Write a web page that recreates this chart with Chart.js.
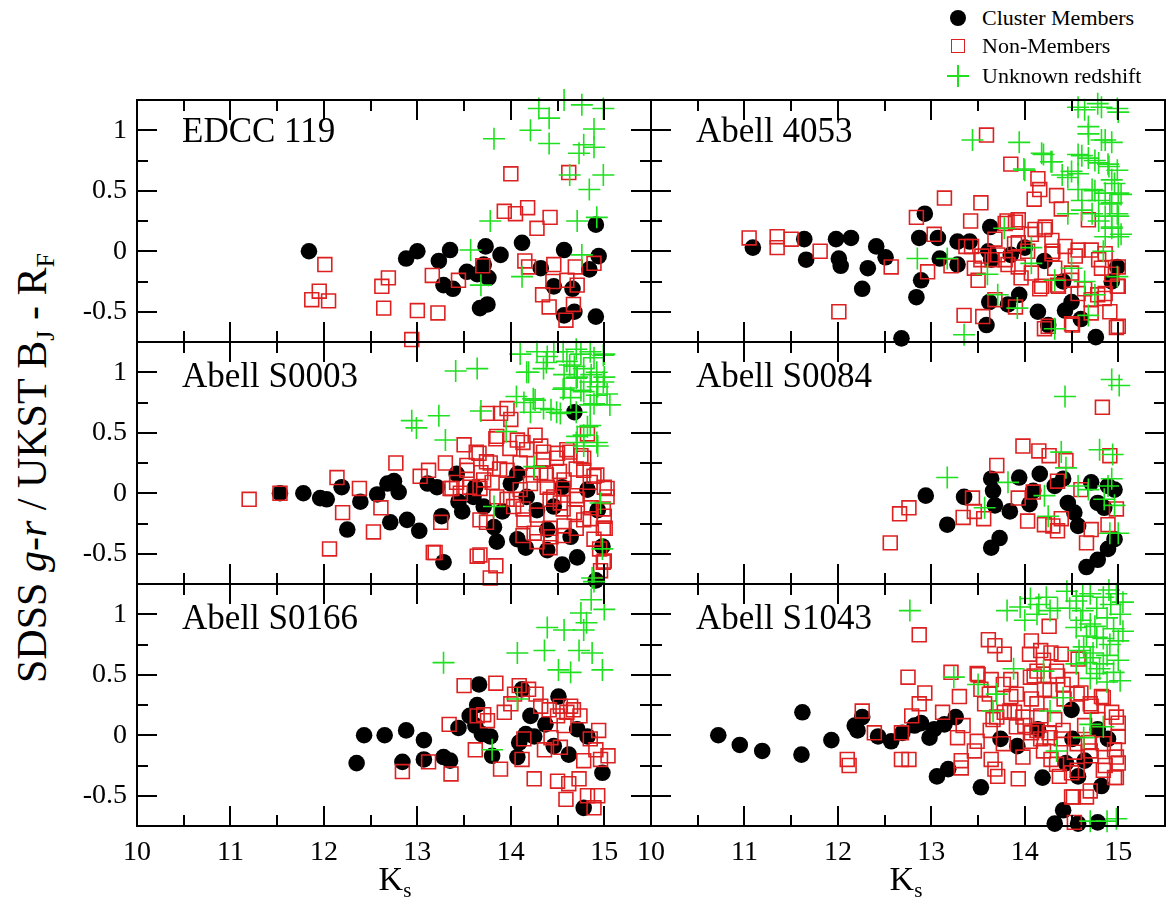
<!DOCTYPE html>
<html>
<head>
<meta charset="utf-8">
<script src="https://cdn.jsdelivr.net/npm/chart.js@4.4.1/dist/chart.umd.min.js"></script>
<style>
  html, body { margin: 0; padding: 0; background: #fff; }
  #fig { position: relative; width: 1170px; height: 918px; overflow: hidden;
         font-family: 'Liberation Serif', 'Times New Roman', serif; color: #000; }
  #fig canvas { position: absolute; }
  .plabel { position: absolute; font-size: 35px; line-height: 1; white-space: nowrap; }
  .ks { position: absolute; font-size: 34px; line-height: 1; transform: translate(-50%, 0); }
  .ks sub, #ytitle sub { font-size: 0.62em; vertical-align: baseline; position: relative; top: 0.32em; }
  #ytitle { position: absolute; left: 32px; top: 468px; font-size: 42px; line-height: 1; white-space: nowrap;
            transform: translate(-50%, -50%) rotate(-90deg); }
  .leg { position: absolute; font-size: 22px; line-height: 1; white-space: nowrap; }
  .mk { position: absolute; box-sizing: border-box; }
</style>
</head>
<body>
<div id="fig"></div>
<script>
/* ===== data: [Ks, colour] pairs ===== */
const X_TICKS = [10, 11, 12, 13, 14, 15];
const X_MINOR = [10.5, 11.5, 12.5, 13.5, 14.5];
const Y_TICKS = [-0.5, 0, 0.5, 1];
const Y_MINOR = [-0.25, 0.25, 0.75];

const EDCC119_MEM = [[11.84,0.00],[12.88,-0.06],[13.00,0.00],[13.23,-0.08],[13.35,0.01],[13.28,-0.28],[13.38,-0.31],
  [13.53,-0.17],[13.73,0.04],[13.64,-0.19],[13.76,-0.22],[13.67,-0.47],[13.75,-0.44],[13.89,-0.03],[14.12,0.07],
  [14.32,-0.14],[14.57,0.01],[14.46,-0.29],[14.66,-0.31],[14.57,-0.53],[14.68,-0.50],[14.84,-0.15],[14.94,-0.04],
  [14.91,0.22],[14.91,-0.54],[13.71,-0.11]];
const EDCC119_NON = [[12.01,-0.11],[11.95,-0.33],[11.87,-0.40],[12.05,-0.41],[12.69,-0.22],[12.62,-0.29],[12.64,-0.47],
  [13.00,-0.49],[13.22,-0.51],[12.94,-0.73],[13.16,-0.20],[13.44,-0.24],[13.70,-0.12],[14.00,0.64],[13.93,0.33],
  [14.05,0.31],[14.18,0.36],[14.28,0.19],[14.42,0.28],[14.15,-0.08],[14.19,-0.13],[14.46,-0.11],[14.34,-0.36],
  [14.41,-0.46],[14.45,-0.25],[14.62,0.65],[14.69,-0.13],[14.71,-0.28],[14.60,-0.24],[14.67,-0.44],[14.59,-0.57],
  [14.89,-0.10]];
const EDCC119_UNK = [[13.82,0.93],[13.78,0.25],[13.57,0.01],[13.68,-0.28],[14.12,-0.21],[14.21,1.00],[14.30,1.18],
  [14.41,1.10],[14.41,0.89],[14.57,1.25],[14.76,1.21],[14.99,1.18],[14.89,1.01],[14.78,0.88],[14.73,0.81],
  [14.89,0.86],[14.63,0.63],[14.99,0.63],[14.84,0.51],[14.71,0.25],[14.92,0.28],[14.76,-0.03]];

const A4053_MEM = [[11.09,0.03],[11.64,0.10],[11.66,-0.07],[11.98,0.10],[12.14,0.11],[12.01,-0.06],[12.03,-0.12],
  [12.41,0.04],[12.51,-0.05],[12.32,-0.14],[12.26,-0.31],[12.68,-0.72],[12.93,0.31],[12.87,0.11],[12.89,-0.24],
  [12.84,-0.38],[13.07,0.11],[13.09,-0.06],[13.28,0.08],[13.41,0.08],[13.28,-0.11],[13.63,0.20],[13.61,0.00],
  [13.64,-0.07],[13.62,-0.42],[13.59,-0.61],[13.82,-0.44],[13.94,-0.36],[14.14,-0.50],[14.25,-0.61],[14.41,-0.25],
  [14.43,-0.49],[14.50,-0.42],[14.60,-0.56],[14.76,-0.71],[14.99,-0.13],[14.93,-0.25],[14.21,-0.08],[13.85,-0.03],
  [14.00,0.03]];
const A4053_NON = [[11.05,0.11],[11.35,0.12],[11.35,0.03],[11.50,0.10],[11.81,0.00],[12.57,-0.13],[12.01,-0.50],
  [12.84,0.28],[13.14,0.44],[13.53,0.40],[13.59,0.96],[13.85,0.72],[14.14,0.60],[14.16,0.51],[14.10,0.43],[14.34,0.46],
  [13.42,0.25],[13.81,0.25],[13.90,0.24],[13.35,-0.53],[13.55,-0.54],[13.50,-0.24],[13.37,0.04],[13.68,0.10],
  [12.96,-0.17],[13.03,0.14],[13.21,-0.12],[14.16,-0.31],[14.21,-0.64],[14.51,-0.61],[14.98,-0.63],[14.91,-0.50],
  [14.85,-0.39],[14.99,-0.29],[14.39,0.35],[14.68,0.26],[14.57,0.01],[14.71,0.01],[14.30,0.00],[14.07,0.14],
  [14.21,0.18],[13.82,-0.11],[13.96,-0.22],[14.32,-0.14],[14.50,-0.18],[14.82,-0.14],[14.93,-0.19],[14.64,-0.31],
  [14.78,-0.36],[14.03,0.00],[13.71,-0.03],[13.46,-0.14],[13.53,-0.07],[13.89,0.06],[14.35,-0.28],
  [13.79,0.23],[13.93,0.26],[14.11,0.18],[14.22,0.20],[14.29,0.09],[14.43,0.04],[15.00,-0.13],[15.00,-0.29],
  [14.86,-0.35],[14.71,-0.40],[14.57,-0.35],[14.50,-0.24],[14.36,-0.29],[14.18,-0.29],[14.07,-0.18],[13.93,-0.13],
  [13.79,-0.07],[13.65,-0.07],[13.54,-0.04],[13.43,0.04],[13.68,-0.40],[13.90,-0.46],[14.25,-0.62],[14.50,-0.60],
  [14.71,-0.51],[15.00,-0.62],[13.93,0.07],[14.29,-0.02],[14.54,-0.04],[14.79,-0.07],[14.86,-0.02]];
const A4053_UNK = [[13.44,0.92],[13.94,0.90],[14.18,0.81],[14.28,0.74],[13.99,0.68],[14.57,1.19],[14.78,1.22],
  [14.99,1.18],[14.68,1.03],[14.82,0.92],[14.93,0.90],[14.61,0.79],[14.75,0.75],[14.89,0.72],[14.46,0.61],[14.57,0.64],
  [14.96,0.56],[15.03,0.47],[14.75,0.50],[14.61,0.42],[14.91,0.39],[14.99,0.31],[14.93,0.19],[14.79,0.25],[15.03,0.14],
  [14.46,0.31],[14.07,0.03],[13.78,0.19],[14.50,-0.14],[14.64,-0.25],[14.32,-0.24],[13.71,-0.36],[13.60,-0.19],
  [13.17,-0.06],[12.85,-0.06],[13.35,-0.69],[14.32,-0.64],[14.68,-0.53],[14.75,-0.36],[14.99,-0.21],[14.84,0.00],
  [14.07,-0.10],[13.92,-0.47],[14.57,0.51],[14.99,0.67],
  [14.64,1.17],[14.82,1.19],[15.00,1.15],[14.68,0.97],[14.86,0.92],[14.57,0.80],[14.68,0.77],[14.79,0.73],
  [14.90,0.70],[14.40,0.63],[14.50,0.66],[14.93,0.59],[14.72,0.51],[14.86,0.48],[15.00,0.48],[14.79,0.42],
  [14.93,0.40],[14.61,0.34],[14.72,0.31],[14.86,0.29],[15.00,0.29],[14.93,0.20],[15.00,0.12],[14.86,0.12],
  [14.29,0.74],[14.20,0.80],[14.00,0.67]];

const S0003_MEM = [[11.53,0.00],[11.78,0.00],[11.96,-0.04],[12.03,-0.05],[12.19,0.05],[12.25,-0.30],[12.39,-0.07],
  [12.57,-0.01],[12.68,0.08],[12.75,0.10],[12.80,0.01],[12.71,-0.24],[12.89,-0.22],[13.02,-0.31],[13.11,0.08],
  [13.21,0.05],[13.26,-0.19],[13.28,-0.57],[13.42,0.16],[13.44,-0.07],[13.48,-0.15],[13.62,0.05],[13.60,-0.03],
  [13.71,-0.11],[13.82,-0.28],[13.85,-0.40],[13.91,-0.15],[14.00,0.08],[14.07,-0.38],[14.16,-0.45],[14.17,-0.03],
  [14.39,-0.47],[14.55,-0.59],[14.64,-0.36],[14.68,0.67],[14.71,-0.53],[14.91,-0.72],[14.98,-0.44],[14.46,-0.11],
  [14.55,0.05],[14.82,0.03],[14.93,-0.14],[14.28,-0.14],[14.39,-0.30],[14.07,0.16]];
const S0003_NON = [[11.20,-0.05],[11.53,0.00],[12.14,0.13],[12.38,0.04],[12.20,-0.16],[12.61,-0.12],[12.53,-0.32],
  [12.06,-0.46],[12.77,0.25],[13.03,0.14],[13.12,0.19],[13.25,-0.24],[13.19,-0.49],[13.30,0.25],[13.37,0.04],
  [13.50,0.40],[13.66,0.33],[13.64,-0.52],[13.84,-0.60],[13.78,-0.70],[13.75,0.66],[13.89,0.66],[13.96,0.70],
  [14.00,0.61],[13.85,0.47],[14.07,0.44],[14.26,0.48],[14.17,0.36],[14.32,0.39],[13.78,0.25],[13.68,0.17],[13.53,0.19],
  [13.96,0.19],[14.10,0.25],[14.35,0.28],[14.50,0.33],[14.60,0.36],[14.75,0.31],[14.82,0.49],[14.78,0.19],[14.89,0.14],
  [15.00,0.05],[15.03,-0.03],[15.00,-0.19],[15.01,-0.29],[14.89,-0.38],[15.00,-0.56],[14.96,-0.64],[14.57,-0.27],
  [14.68,-0.16],[14.46,-0.03],[14.57,0.11],[14.39,0.05],[14.21,0.08],[14.14,-0.22],[14.25,-0.33],[14.43,-0.36],
  [14.03,-0.11],[13.85,-0.03],[13.71,0.11],[13.56,0.05],[13.46,0.00],[14.10,0.03],[14.32,0.17],[14.71,-0.05],
  [14.86,-0.12],[14.78,-0.22],[14.53,-0.08],[13.67,-0.22],[13.96,-0.05],
  [13.84,0.45],[13.99,0.37],[14.13,0.42],[14.35,0.34],[14.49,0.29],[14.63,0.34],[14.78,0.29],[14.92,0.15],
  [15.03,0.04],[14.99,-0.13],[14.85,-0.21],[14.70,-0.29],[14.56,-0.35],[14.42,-0.29],[14.28,-0.18],[14.13,-0.13],
  [14.06,-0.05],[14.24,0.15],[14.38,0.15],[14.52,0.18],[14.70,0.20],[14.85,0.09],[14.56,0.04],[14.70,-0.02],
  [14.56,-0.13],[14.42,-0.05],[13.88,0.20],[13.74,0.26],[13.63,0.34],[13.53,0.23],[13.42,0.09],[13.35,0.04],
  [13.80,0.09],[13.67,0.04],[13.74,-0.24],[14.13,-0.35],[14.28,-0.40],[14.42,-0.45],[14.99,-0.29],[14.95,-0.46],
  [14.99,-0.57],[13.67,-0.51],[13.17,-0.49]];
const S0003_UNK = [[12.94,0.60],[12.99,0.54],[13.23,0.64],[13.30,0.44],[13.41,1.01],[13.64,1.03],[13.68,0.68],
  [14.10,1.15],[14.19,1.00],[14.35,1.03],[14.14,0.75],[14.26,0.77],[14.21,0.67],[14.43,0.69],[14.53,0.66],[14.46,1.17],
  [14.60,1.09],[14.75,1.15],[14.89,1.12],[15.00,1.15],[14.57,0.98],[14.71,0.96],[14.86,0.98],[15.00,0.96],[14.57,0.87],
  [14.75,0.85],[14.93,0.88],[15.03,0.82],[14.64,0.79],[14.89,0.74],[14.82,0.55],[14.71,0.47],[14.93,0.39],[14.78,0.39],
  [13.82,-0.11],[14.25,0.22],[14.96,-0.08],[14.98,-0.46],[14.87,-0.70],[14.39,1.13],[14.68,1.05],
  [14.28,1.17],[14.38,1.08],[14.56,1.17],[14.70,1.19],[14.85,1.17],[14.99,1.14],[14.63,1.06],[14.78,1.03],
  [14.92,1.00],[14.70,0.95],[14.85,0.92],[14.99,0.92],[14.56,0.86],[14.78,0.84],[14.92,0.81],[15.06,0.73],
  [14.85,0.73],[14.70,0.67],[14.49,0.67],[14.35,0.70],[14.24,0.78],[14.06,0.80],[14.85,0.56],[14.78,0.48],
  [14.92,0.42],[14.70,0.42],[13.95,0.51],[14.17,1.00]];

const S0084_MEM = [[12.94,-0.02],[13.17,-0.26],[13.35,-0.03],[13.64,0.12],[13.66,0.02],[13.68,-0.10],[13.84,-0.15],
  [13.94,0.13],[13.73,-0.37],[13.64,-0.45],[14.16,0.16],[14.09,0.02],[14.05,-0.09],[14.32,0.06],[14.41,0.12],
  [14.46,-0.08],[14.53,-0.16],[14.57,-0.27],[14.71,0.09],[14.78,-0.08],[14.89,0.06],[14.96,0.03],[14.96,-0.38],
  [14.89,-0.46],[14.78,-0.55],[14.66,-0.61],[14.85,-0.12]];
const S0084_NON = [[12.56,-0.41],[12.66,-0.17],[12.76,-0.12],[13.34,-0.20],[13.44,-0.04],[13.46,-0.15],[13.56,-0.21],
  [13.70,0.23],[13.98,0.39],[14.15,0.35],[14.26,0.31],[13.93,-0.04],[14.09,0.01],[14.03,-0.23],[14.21,-0.26],
  [14.35,-0.31],[14.30,-0.27],[14.35,0.10],[14.44,0.27],[14.60,0.03],[14.71,-0.30],[14.66,-0.41],[14.91,0.31],
  [14.83,0.71],[14.89,-0.26],[14.98,-0.13],[14.39,-0.21]];
const S0084_UNK = [[13.17,0.13],[13.57,-0.12],[13.82,0.09],[14.21,-0.02],[14.25,-0.19],[14.39,0.34],[14.44,0.21],
  [14.43,0.80],[14.57,0.06],[14.68,0.03],[14.80,0.36],[14.93,0.94],[15.01,0.89],[14.94,0.32],[14.93,0.12],[14.85,-0.05],
  [14.96,-0.10],[14.91,-0.33],[15.00,-0.33],[14.89,0.06]];

const S0166_MEM = [[12.35,-0.23],[12.43,0.00],[12.65,0.00],[12.88,0.04],[13.07,-0.04],[12.84,-0.22],[13.07,-0.20],
  [13.28,-0.18],[13.35,-0.21],[13.44,0.06],[13.66,0.42],[13.64,0.25],[13.56,0.16],[13.62,0.08],[13.69,0.01],[13.78,-0.01],
  [13.80,-0.17],[14.12,0.38],[14.21,0.16],[14.16,0.01],[14.09,-0.06],[14.07,-0.18],[14.25,-0.01],[14.37,0.09],
  [14.51,0.32],[14.46,-0.09],[14.62,-0.16],[14.71,0.05],[14.82,-0.01],[14.98,-0.31],[14.78,-0.60]];
const S0166_NON = [[12.84,-0.30],[13.12,-0.22],[13.36,-0.32],[13.34,0.09],[13.50,0.41],[13.62,-0.12],[13.64,0.16],
  [13.75,0.12],[13.84,0.43],[13.89,-0.28],[13.93,0.19],[14.00,0.26],[14.04,0.34],[14.09,0.41],[14.19,0.38],[14.27,0.34],
  [14.12,-0.20],[14.25,-0.36],[14.36,-0.12],[14.41,0.21],[14.50,0.16],[14.53,0.24],[14.60,0.19],[14.67,0.21],
  [14.74,0.16],[14.57,0.08],[14.43,-0.02],[14.53,-0.10],[14.50,-0.38],[14.62,-0.40],[14.73,-0.36],[14.59,-0.53],
  [14.82,-0.50],[14.93,-0.50],[14.89,-0.60],[14.94,0.04],[14.85,-0.03],[14.96,-0.20],[15.04,-0.17],[14.78,-0.21],
  [14.91,-0.12],[14.64,0.24],[14.32,0.24],[13.71,0.17],[14.14,-0.03]];
const S0166_UNK = [[13.28,0.60],[13.80,-0.12],[14.07,0.30],[14.07,0.68],[14.36,0.70],[14.39,0.89],[14.57,0.87],
  [14.51,0.54],[14.64,0.52],[14.73,0.70],[14.78,0.87],[14.87,0.68],[14.98,0.54],[14.75,1.01],[14.86,1.12],[15.00,1.04],
  [14.81,0.93],[14.89,1.27]];

const S1043_MEM = [[10.72,0.00],[10.95,-0.08],[11.19,-0.13],[11.62,0.19],[11.61,-0.16],[11.93,-0.04],[12.18,0.08],
  [12.26,0.15],[12.21,0.04],[12.43,-0.01],[12.57,-0.05],[12.69,0.02],[12.82,0.08],[12.89,0.10],[12.98,-0.02],
  [13.03,0.05],[13.14,0.09],[13.26,0.15],[13.06,-0.34],[13.18,-0.28],[13.53,-0.43],[13.74,-0.03],[13.92,-0.09],
  [14.19,-0.35],[14.41,-0.62],[14.32,-0.73],[14.50,0.21],[14.44,-0.23],[14.57,-0.34],[14.64,-0.21],[14.51,-0.03],
  [14.82,-0.42],[14.78,-0.72],[14.89,-0.03],[14.78,0.05],[14.14,0.05],[14.57,-0.73]];
const S1043_NON = [[12.10,-0.20],[12.12,-0.25],[12.26,0.20],[12.39,0.02],[12.68,-0.20],[12.76,-0.20],[12.68,0.02],
  [12.87,0.83],[12.75,0.48],[12.93,0.35],[12.87,0.26],[12.79,0.16],[13.12,0.19],[13.21,0.52],[13.30,0.32],[13.34,0.08],
  [13.28,-0.02],[13.46,-0.13],[13.32,-0.21],[13.32,-0.27],[13.50,0.50],[13.53,0.38],[13.57,0.26],[13.61,0.79],
  [13.68,0.74],[13.78,0.67],[13.64,0.46],[13.66,0.13],[13.64,-0.20],[13.71,-0.34],[13.68,-0.28],[13.93,-0.36],
  [13.98,-0.18],[13.85,0.46],[13.89,0.19],[14.07,0.78],[14.05,0.67],[14.17,0.70],[14.26,0.90],[14.28,0.68],[14.39,0.67],
  [14.10,0.49],[14.21,0.38],[14.35,0.49],[14.50,0.46],[14.07,0.30],[14.17,0.16],[14.32,0.13],[14.42,0.30],[14.60,0.35],
  [14.71,0.24],[14.82,0.32],[14.93,0.19],[15.00,0.10],[15.00,-0.01],[14.96,-0.12],[15.00,-0.23],[14.96,-0.35],
  [14.86,-0.25],[14.71,-0.17],[14.53,-0.14],[14.39,-0.03],[14.26,0.02],[14.07,0.02],[14.00,0.08],[14.64,0.08],
  [14.78,0.13],[14.68,-0.06],[14.50,-0.31],[14.37,-0.34],[14.50,-0.51],[14.66,-0.51],[14.28,-0.20],[14.17,-0.03],
  [13.78,0.19],[13.85,0.32],[14.57,0.63],[14.53,-0.72],
  [14.27,0.37],[14.41,0.42],[14.56,0.34],[14.70,0.26],[14.84,0.31],[14.98,0.15],[14.13,0.26],[13.98,0.15],
  [14.13,0.04],[14.27,-0.02],[14.41,0.04],[14.56,-0.07],[14.70,-0.13],[14.84,-0.07],[14.98,-0.18],[14.98,-0.35],
  [14.84,-0.29],[14.56,-0.29],[14.70,-0.46],[14.52,-0.51],[13.84,0.20],[13.70,0.15],[13.62,0.34],[13.77,0.42],
  [13.49,0.51],[14.06,0.48],[13.91,0.34],[14.20,0.62],[14.34,0.53],[14.13,0.53],[13.63,0.04],[13.49,-0.05],
  [13.77,-0.07],[13.91,0.07],[14.06,-0.05],[14.20,-0.13],[14.34,-0.24]];
const S1043_UNK = [[12.77,1.03],[13.81,1.03],[14.06,1.13],[14.13,1.00],[14.23,1.14],[14.45,1.19],[14.55,1.11],
  [14.70,1.17],[14.84,1.14],[14.98,1.17],[15.02,1.00],[14.88,0.97],[14.70,0.92],[14.55,0.89],[14.77,0.81],[14.91,0.75],
  [14.63,0.73],[14.70,0.64],[14.84,0.59],[15.02,0.45],[14.77,0.51],[14.55,0.59],[14.27,1.03],[15.05,0.86],[13.24,0.48],
  [13.50,0.42],[13.70,0.34],[13.66,0.20],[13.88,0.55],[14.20,0.53],[14.41,0.31],[14.27,0.20],[14.70,0.09],[14.84,0.07],
  [14.34,-0.13],[14.63,-0.02],[14.70,-0.71],[14.88,-0.71],[14.98,-0.69],
  [14.48,1.05],[14.62,1.03],[14.77,1.05],[14.92,1.08],[15.05,1.10],[14.60,0.95],[14.75,0.90],[14.95,0.88],
  [14.66,0.82],[14.84,0.80],[15.00,0.78],[14.58,0.70],[14.73,0.68],[14.88,0.66],[15.00,0.62],[14.66,0.60],
  [14.80,0.55],[14.95,0.52],[14.70,0.47],[14.88,0.44],[14.62,1.15],[14.90,1.20],[14.35,1.05],[14.15,1.08],
  [13.95,1.06],[14.00,0.95]];

const PANEL_NAMES = ['EDCC 119', 'Abell 4053', 'Abell S0003', 'Abell S0084', 'Abell S0166', 'Abell S1043'];
const MEMBERS = [EDCC119_MEM, A4053_MEM, S0003_MEM, S0084_MEM, S0166_MEM, S1043_MEM];
const NONMEMBERS = [EDCC119_NON, A4053_NON, S0003_NON, S0084_NON, S0166_NON, S1043_NON];
const UNKNOWN = [EDCC119_UNK, A4053_UNK, S0003_UNK, S0084_UNK, S0166_UNK, S1043_UNK];

/* ===== layout ===== */
const COL_L = [137, 651], ROW_T = [100, 342, 584];
const PW = 514, PH = 242;
const PAD_L = 70, PAD_T = 20, PAD_R = 20, PAD_B = 45;
const SERIF = "'Liberation Serif', 'Times New Roman', serif";
const RED = '#dd2020', GREEN = '#1fe01f';

const fig = document.getElementById('fig');

/* 枠と内向きの目盛り */
const frameTicks = {
  id: 'frameTicks',
  afterDraw(chart) {
    const ctx = chart.ctx;
    const a = chart.chartArea;
    const sx = chart.scales.x, sy = chart.scales.y;
    ctx.save();
    ctx.strokeStyle = '#000';
    ctx.lineWidth = 2;
    ctx.strokeRect(a.left, a.top, a.right - a.left, a.bottom - a.top);
    const seg = (x0, y0, x1, y1) => {
      ctx.beginPath(); ctx.moveTo(x0, y0); ctx.lineTo(x1, y1); ctx.stroke();
    };
    for (const v of X_TICKS.concat(X_MINOR)) {
      const len = X_TICKS.includes(v) ? 20 : 11;
      const p = Math.round(sx.getPixelForValue(v));
      seg(p, a.bottom, p, a.bottom - len);
      seg(p, a.top, p, a.top + len);
    }
    for (const v of Y_TICKS.concat(Y_MINOR)) {
      const len = Y_TICKS.includes(v) ? 20 : 11;
      const p = Math.round(sy.getPixelForValue(v));
      seg(a.left, p, a.left + len, p);
      seg(a.right, p, a.right - len, p);
    }
    ctx.restore();
  },
};

PANEL_NAMES.forEach((name, i) => {
  const col = i % 2, row = Math.floor(i / 2);
  const cv = document.createElement('canvas');
  cv.width = PW + PAD_L + PAD_R;
  cv.height = PH + PAD_T + PAD_B;
  cv.style.left = (COL_L[col] - PAD_L) + 'px';
  cv.style.top = (ROW_T[row] - PAD_T) + 'px';
  fig.appendChild(cv);

  new Chart(cv, {
    type: 'scatter',
    data: {
      datasets: [
        { label: 'Unknown redshift', data: UNKNOWN[i], pointStyle: 'cross', pointRadius: 11,
          borderColor: GREEN, borderWidth: 1.6, order: 1, clip: false },
        { label: 'Non-Members', data: NONMEMBERS[i], pointStyle: 'rect', pointRadius: 9.8,
          borderColor: RED, backgroundColor: 'rgba(0,0,0,0)', borderWidth: 1.6, order: 2, clip: false },
        { label: 'Cluster Members', data: MEMBERS[i], pointStyle: 'circle', pointRadius: 8.3,
          backgroundColor: '#000', borderColor: '#000', borderWidth: 0, order: 3, clip: false },
      ],
    },
    options: {
      responsive: false,
      animation: false,
      events: [],
      layout: { padding: { top: PAD_T, right: PAD_R, left: 0, bottom: 0 } },
      plugins: { legend: { display: false }, tooltip: { enabled: false } },
      scales: {
        x: {
          type: 'linear', min: 10, max: 15.5,
          grid: { display: false, drawTicks: false }, border: { display: false },
          afterBuildTicks: s => { s.ticks = X_TICKS.map(v => ({ value: v })); },
          afterFit: s => { s.height = PAD_B; s.paddingLeft = 0; s.paddingRight = 0; },
          ticks: { display: row === 2, autoSkip: false, maxRotation: 0, padding: 10,
                   color: '#000', font: { family: SERIF, size: 28 }, callback: v => String(v) },
        },
        y: {
          type: 'linear', min: -0.75, max: 1.25,
          grid: { display: false, drawTicks: false }, border: { display: false },
          afterBuildTicks: s => { s.ticks = Y_TICKS.map(v => ({ value: v })); },
          afterFit: s => { s.width = PAD_L; s.paddingTop = 0; s.paddingBottom = 0; },
          ticks: { display: col === 0, autoSkip: false, padding: 10,
                   color: '#000', font: { family: SERIF, size: 28 }, callback: v => String(v) },
        },
      },
    },
    plugins: [frameTicks],
  });

  const lb = document.createElement('div');
  lb.className = 'plabel';
  lb.textContent = name;
  lb.style.left = (COL_L[col] + 45) + 'px';
  lb.style.top = (ROW_T[row] + (row === 0 ? 13 : 16)) + 'px';
  fig.appendChild(lb);
});

/* 軸タイトル */
fig.insertAdjacentHTML('beforeend',
  '<div id="ytitle">SDSS <i>g-r</i> / UKST B<sub>J</sub> - R<sub>F</sub></div>' +
  '<div class="ks" style="left:395px;top:862px">K<sub>s</sub></div>' +
  '<div class="ks" style="left:906px;top:862px">K<sub>s</sub></div>');

/* 凡例 */
const LEGEND = ['Cluster Members', 'Non-Members', 'Unknown redshift'];
const LEG_Y = [18, 46, 76];
const LEG_MX = 958, LEG_TX = 982;
fig.insertAdjacentHTML('beforeend',
  `<div class="mk" style="left:${LEG_MX - 8}px;top:${LEG_Y[0] - 8}px;width:16px;height:16px;border-radius:50%;background:#000"></div>` +
  `<div class="mk" style="left:${LEG_MX - 7}px;top:${LEG_Y[1] - 7}px;width:14px;height:14px;border:1.6px solid ${RED}"></div>` +
  `<div class="mk" style="left:${LEG_MX - 11}px;top:${LEG_Y[2] - 1}px;width:22px;height:2px;background:${GREEN}"></div>` +
  `<div class="mk" style="left:${LEG_MX - 1}px;top:${LEG_Y[2] - 11}px;width:2px;height:22px;background:${GREEN}"></div>`);
LEGEND.forEach((t, k) => {
  fig.insertAdjacentHTML('beforeend',
    `<div class="leg" style="left:${LEG_TX}px;top:${LEG_Y[k] - 11}px">${t}</div>`);
});
</script>
</body>
</html>
